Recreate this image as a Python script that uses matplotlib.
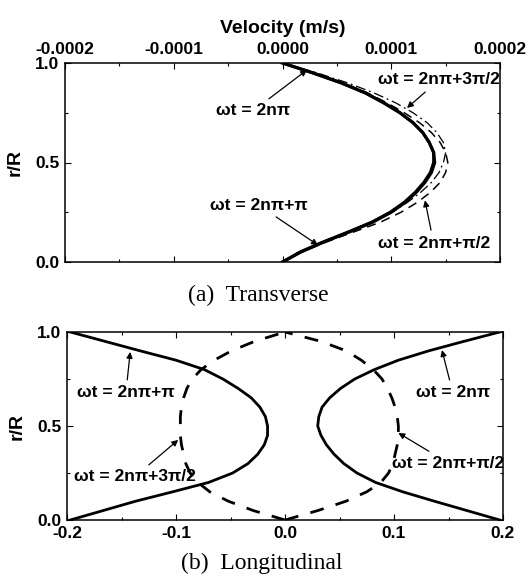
import matplotlib
matplotlib.use("Agg")
import matplotlib.pyplot as plt
from matplotlib.ticker import FormatStrFormatter, MultipleLocator

plt.rcParams['font.family'] = ['Liberation Sans', 'DejaVu Sans']
plt.rcParams['font.weight'] = 'bold'
plt.rcParams['axes.unicode_minus'] = False

# radial position r/R
r = [0.0, 0.05, 0.1, 0.15, 0.2, 0.25, 0.3, 0.35, 0.4, 0.45, 0.5,
     0.55, 0.6, 0.65, 0.7, 0.75, 0.8, 0.85, 0.9, 0.95, 1.0]

# (a) transverse velocity, m/s (x 1e-4)
trans_0 = [0.0, 0.17, 0.38, 0.61, 0.83, 1.00, 1.13, 1.23, 1.31, 1.37, 1.40,
           1.39, 1.35, 1.29, 1.20, 1.08, 0.93, 0.76, 0.54, 0.28, 0.0]
trans_pi = [0.0, 0.16, 0.37, 0.60, 0.82, 0.99, 1.12, 1.22, 1.30, 1.36, 1.39,
            1.39, 1.35, 1.29, 1.20, 1.08, 0.93, 0.76, 0.54, 0.28, 0.0]
trans_half = [0.0, 0.17, 0.40, 0.65, 0.90, 1.09, 1.24, 1.36, 1.45, 1.50, 1.52,
              1.50, 1.45, 1.37, 1.26, 1.12, 0.96, 0.78, 0.56, 0.30, 0.0]
trans_3half = [0.0, 0.16, 0.36, 0.60, 0.83, 1.01, 1.15, 1.27, 1.37, 1.44, 1.48,
               1.50, 1.48, 1.42, 1.33, 1.20, 1.04, 0.84, 0.60, 0.32, 0.0]
trans_0 = [v * 1e-4 for v in trans_0]
trans_pi = [v * 1e-4 for v in trans_pi]
trans_half = [v * 1e-4 for v in trans_half]
trans_3half = [v * 1e-4 for v in trans_3half]

# (b) longitudinal velocity, m/s
long_0 = [0.197, 0.167, 0.137, 0.108, 0.083, 0.066, 0.054, 0.045, 0.038, 0.033, 0.030,
          0.031, 0.034, 0.041, 0.051, 0.064, 0.082, 0.104, 0.132, 0.164, 0.197]
long_pi = [-0.197, -0.167, -0.137, -0.103, -0.070, -0.048, -0.034, -0.025, -0.019, -0.016, -0.016,
           -0.018, -0.023, -0.031, -0.043, -0.057, -0.074, -0.100, -0.133, -0.165, -0.197]
long_half = [0.0, 0.030, 0.056, 0.075, 0.088, 0.095, 0.099, 0.101, 0.103, 0.104, 0.104,
             0.103, 0.101, 0.098, 0.094, 0.089, 0.081, 0.070, 0.056, 0.033, 0.0]
long_3half = [0.0, -0.029, -0.052, -0.069, -0.080, -0.087, -0.091, -0.093, -0.095, -0.096, -0.096,
              -0.096, -0.095, -0.093, -0.090, -0.085, -0.077, -0.065, -0.049, -0.028, 0.0]

arrow = dict(arrowstyle='-|>', lw=0.9, color='k', mutation_scale=9, shrinkA=2, shrinkB=0)
ann_kw = dict(fontsize=12.5, fontweight='bold', ha='center', va='center', arrowprops=arrow)

fig = plt.figure(figsize=(5.32, 5.81), dpi=100)
ax1 = fig.add_axes([65 / 532, 1 - 262 / 581, 435 / 532, 199 / 581])
ax2 = fig.add_axes([67 / 532, 1 - 520 / 581, 436 / 532, 188 / 581])

# ---- (a) transverse
ax1.plot(trans_0, r, color='k', lw=2.2, solid_joinstyle='round')
ax1.plot(trans_pi, r, color='k', lw=2.2, solid_joinstyle='round')
ax1.plot(trans_half, r, color='k', lw=1.1, dashes=(6, 4))
ax1.plot(trans_3half, r, color='k', lw=0.9, dashes=(8, 3, 1.5, 3))
ax1.set_xlim(-0.0002, 0.0002)
ax1.set_ylim(0, 1)
ax1.xaxis.set_major_locator(MultipleLocator(0.0001))
ax1.xaxis.set_minor_locator(MultipleLocator(0.00005))
ax1.xaxis.set_major_formatter(FormatStrFormatter('%.4f'))
ax1.xaxis.tick_top()
ax1.xaxis.set_label_position('top')
ax1.set_xlabel('Velocity (m/s)', fontsize=14, fontweight='bold', labelpad=7)

ax1.annotate('ωt = 2nπ', xy=(0.225e-4, 0.965), xytext=(-0.27e-4, 0.76), **ann_kw)
ax1.annotate('ωt = 2nπ+3π/2', xy=(1.145e-4, 0.774), xytext=(1.44e-4, 0.915), **ann_kw)
ax1.annotate('ωt = 2nπ+π', xy=(0.326e-4, 0.085), xytext=(-0.22e-4, 0.286), **ann_kw)
ax1.annotate('ωt = 2nπ+π/2', xy=(1.31e-4, 0.31), xytext=(1.39e-4, 0.095), **ann_kw)

# ---- (b) longitudinal
ax2.plot(long_0, r, color='k', lw=2.0, solid_joinstyle='round')
ax2.plot(long_pi, r, color='k', lw=2.0, solid_joinstyle='round')
ax2.plot(long_half, r, color='k', lw=2.0, dashes=(5, 4.5))
ax2.plot(long_3half, r, color='k', lw=2.0, dashes=(5, 4.5))
ax2.set_xlim(-0.2, 0.2)
ax2.set_ylim(0, 1)
ax2.xaxis.set_major_locator(MultipleLocator(0.1))
ax2.xaxis.set_minor_locator(MultipleLocator(0.05))
ax2.xaxis.set_major_formatter(FormatStrFormatter('%.1f'))

ax2.annotate('ωt = 2nπ+π', xy=(-0.142, 0.894), xytext=(-0.146, 0.676), **ann_kw)
ax2.annotate('ωt = 2nπ+3π/2', xy=(-0.098, 0.426), xytext=(-0.138, 0.229), **ann_kw)
ax2.annotate('ωt = 2nπ', xy=(0.144, 0.904), xytext=(0.154, 0.676), **ann_kw)
ax2.annotate('ωt = 2nπ+π/2', xy=(0.104, 0.463), xytext=(0.150, 0.303), **ann_kw)

for ax in (ax1, ax2):
    ax.yaxis.set_major_locator(MultipleLocator(0.5))
    ax.yaxis.set_minor_locator(MultipleLocator(0.25))
    ax.yaxis.set_major_formatter(FormatStrFormatter('%.1f'))
    ax.set_ylabel('r/R', fontsize=14, fontweight='bold', labelpad=8)
    ax.tick_params(which='both', direction='in', top=True, bottom=True,
                   left=True, right=True, labelsize=12.5, pad=4)
    ax.tick_params(which='major', length=4, width=0.8)
    ax.tick_params(which='minor', length=2.5, width=0.8)
    for lbl in ax.get_xticklabels() + ax.get_yticklabels():
        lbl.set_fontweight('bold')
    for sp in ax.spines.values():
        sp.set_linewidth(1.1)

fig.text(258 / 532, 1 - 295 / 581, '(a)  Transverse', family='Liberation Serif',
         fontweight='normal', fontsize=17, ha='center', va='center')
fig.text(262 / 532, 1 - 563 / 581, '(b)  Longitudinal', family='Liberation Serif',
         fontweight='normal', fontsize=17, ha='center', va='center')

fig.savefig('out.png', dpi=100)
